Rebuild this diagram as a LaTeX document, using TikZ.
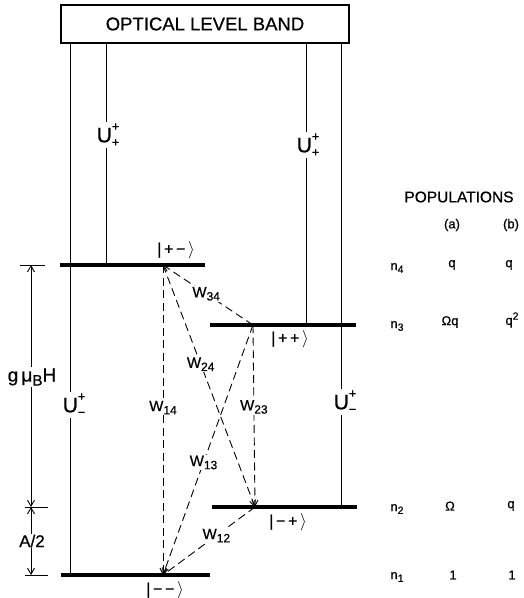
\documentclass[tikz,border=0pt]{standalone}
\usepackage{fontspec}
\setmainfont{Liberation Sans}[FakeBold=0.6]
\usetikzlibrary{arrows.meta}
\newcommand\lsub[1]{\raisebox{-0.4ex}{\scalebox{0.8}{#1}}}
\newcommand\lsup[1]{\raisebox{0.75ex}{\scalebox{0.8}{#1}}}
\newcommand\Ulab[2]{U\makebox[0pt][l]{\raisebox{0.55em}{\scalebox{0.6}{#1}}}\raisebox{-0.2em}{\scalebox{0.6}{#2}}}
\begin{document}
\begin{tikzpicture}[x=1pt,y=-1pt,
  level/.style={line width=3.8pt},
  vline/.style={line width=0.9pt},
  wline/.style={line width=0.9pt,dash pattern=on 8pt off 4.5pt},
  wtip/.style={-{Straight Barb[length=6pt,width=6pt,line width=0.9pt]}},
  wlab/.style={fill=white,inner sep=1pt,font=\fontsize{15}{17}\selectfont},
  klab/.style={font=\fontsize{16}{18}\selectfont},
  ulab/.style={fill=white,inner sep=1.5pt,font=\fontsize{21}{23}\selectfont},
  ptxt/.style={font=\fontsize{13}{15}\selectfont},
  dim/.style={line width=0.9pt},
  dtip/.style={-{Straight Barb[length=6pt,width=7pt,line width=0.9pt]}}]
\useasboundingbox (0,0) rectangle (524,598);
% band box
\node[draw,line width=1.1pt,minimum width=288pt,minimum height=38pt,inner sep=0pt,
  font=\fontsize{18.5}{20}\selectfont] (band) at (205,24) {OPTICAL LEVEL BAND};
% levels
\coordinate (L4a) at (60,265); \coordinate (L4b) at (205,265);
\coordinate (L3a) at (210,325); \coordinate (L3b) at (356,325);
\coordinate (L2a) at (212,507); \coordinate (L2b) at (357,507);
\coordinate (L1a) at (61,575); \coordinate (L1b) at (210,575);
\draw[level] (L4a) -- (L4b);
\draw[level] (L3a) -- (L3b);
\draw[level] (L2a) -- (L2b);
\draw[level] (L1a) -- (L1b);
\node[klab] (k4) at (176,250) {|\,+\,−\,$\rangle$};
\node[klab] (k3) at (290,339) {|\,+\,+\,$\rangle$};
\node[klab] (k2) at (288,522) {|\,−\,+\,$\rangle$};
\node[klab] (k1) at (165,590) {|\,−\,−\,$\rangle$};
% optical pumping lines
\coordinate (T1) at (70,43);  \coordinate (B1) at (70,575);
\coordinate (T2) at (106,43); \coordinate (B2) at (106,265);
\coordinate (T3) at (306,43); \coordinate (B3) at (306,325);
\coordinate (T4) at (341,43); \coordinate (B4) at (341,507);
\draw[vline] (T1) -- (B1);
\draw[vline] (T2) -- (B2);
\draw[vline] (T3) -- (B3);
\draw[vline] (T4) -- (B4);
\node[ulab] (u2) at (108,135) {\Ulab{+}{+}};
\node[ulab] (u3) at (308,145) {\Ulab{+}{+}};
\node[ulab] (u1) at (74,405) {\Ulab{+}{−}};
\node[ulab] (u4) at (345,402) {\Ulab{+}{−}};
% relaxation transitions
\coordinate (P4) at (163,265); \coordinate (P3) at (253,325);
\coordinate (P2) at (255,507); \coordinate (P1) at (163,575);
\draw[wline,wtip] (P3) -- node[wlab,pos=0.52] {W\lsub{34}} (P4);
\draw[wline,wtip] (P4) -- node[wlab,pos=0.41] {W\lsub{24}} (P2);
\draw[wline,wtip] (P4) -- node[wlab,pos=0.46] {W\lsub{14}} (P1);
\draw[wline,wtip] (P3) -- node[wlab,pos=0.45] {W\lsub{23}} (P2);
\draw[wline,wtip] (P3) -- node[wlab,pos=0.55] {W\lsub{13}} (P1);
\draw[wline,wtip] (P2) -- node[wlab,pos=0.42] {W\lsub{12}} (P1);
% dimension markers
\coordinate (D4) at (31,265); \coordinate (D2) at (31,507); \coordinate (D1) at (31,575);
\draw[dim] (20,265) -- (45,265);
\draw[dim] (25,507) -- (48,507);
\draw[dim] (25,575) -- (48,575);
\node[fill=white,inner sep=1pt,font=\fontsize{19}{21}\selectfont] (gmu) at (32,377) {g\,μ\lsub{B}H};
\node[fill=white,inner sep=1pt,font=\fontsize{17}{19}\selectfont] (half) at (32,541) {A/2};
\draw[dim,dtip] (gmu.north -| D4) -- (D4);
\draw[dim,dtip] (gmu.south -| D4) -- (D2);
\draw[dim,dtip] (half.north -| D2) -- (D2);
\draw[dim,dtip] (half.south -| D1) -- (D1);
% populations
\node[font=\fontsize{15.5}{17}\selectfont] (pop) at (459,197) {POPULATIONS};
\node[ptxt] (ca) at (452,225) {(a)};
\node[ptxt] (cb) at (511,225) {(b)};
\node[ptxt] (n4) at (397,268) {n\lsub{4}};
\node[ptxt] (a4) at (452,265) {q};
\node[ptxt] (b4) at (509,265) {q};
\node[ptxt] (n3) at (397,326) {n\lsub{3}};
\node[ptxt] (a3) at (450,322) {Ωq};
\node[ptxt] (b3) at (512,320) {q\lsup{2}};
\node[ptxt] (n2) at (397,509) {n\lsub{2}};
\node[ptxt] (a2) at (450,506) {Ω};
\node[ptxt] (b2) at (511,506) {q};
\node[ptxt] (n1) at (397,577) {n\lsub{1}};
\node[ptxt] (a1) at (453,575) {1};
\node[ptxt] (b1) at (512,575) {1};
\end{tikzpicture}
\end{document}
